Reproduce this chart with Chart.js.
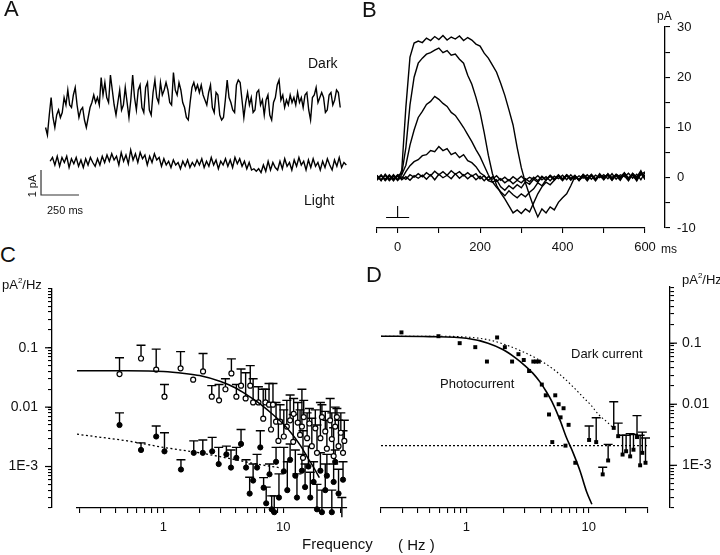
<!DOCTYPE html>
<html><head><meta charset="utf-8">
<script src="https://cdn.jsdelivr.net/npm/chart.js@4.4.1/dist/chart.umd.min.js"></script>
<style>
html,body{margin:0;padding:0;background:#fff;}
#wrap{position:relative;width:720px;height:555px;overflow:hidden;font-family:'Liberation Sans',Arial,Helvetica,sans-serif;color:#111;}
canvas{position:absolute;}
.t{position:absolute;line-height:1;white-space:nowrap;transform:translateY(-50%);}
.L{position:absolute;font-size:22px;line-height:normal;color:#111;}
</style></head><body>
<div id="wrap">
<canvas id="cA" width="360" height="230" style="left:0;top:0"></canvas>
<canvas id="cB" width="360" height="270" style="left:360px;top:0"></canvas>
<canvas id="cC" width="360" height="285" style="left:0;top:270px"></canvas>
<canvas id="cD" width="360" height="285" style="left:360px;top:270px"></canvas>
<div class="L" style="left:4px;top:-4px">A</div>
<div class="L" style="left:362px;top:-3px">B</div>
<div class="L" style="left:0px;top:242px">C</div>
<div class="L" style="left:366px;top:262px">D</div>
<div class="t" style="left:308px;top:63px;font-size:14px">Dark</div>
<div class="t" style="left:304px;top:200px;font-size:14px">Light</div>
<div class="t" style="left:47px;top:210px;font-size:11px">250 ms</div>
<div class="t" style="left:32px;top:186px;font-size:11px;transform:translate(-50%,-50%) rotate(-90deg)">1 pA</div>
<div class="t" style="left:657px;top:16px;font-size:12px">pA</div>
<div class="t" style="left:661px;top:249px;font-size:12px">ms</div>
<div class="t" style="left:2px;top:284px;font-size:13px">pA<sup style="font-size:8px">2</sup>/Hz</div>
<div class="t" style="left:682px;top:279px;font-size:13px">pA<sup style="font-size:8px">2</sup>/Hz</div>
<div class="t" style="left:302px;top:543px;font-size:15px">Frequency</div>
<div class="t" style="left:398px;top:544px;font-size:15px">( Hz )</div>
<div class="t" style="left:571px;top:353px;font-size:13px">Dark current</div>
<div class="t" style="left:440px;top:383px;font-size:13px">Photocurrent</div>
</div>
<script>
// ---------------- DATA ----------------
// Panel A: noise traces (pA, plotted level), uniformly sampled
const aDarkStartMs = 0, aDarkDtMs = 12.2;
const aDarkTrace = [
 4.1,3.8,4.6,5.3,4.5,4.1,4.6,4.8,4.5,4.7,
 5.3,5.0,5.6,5.0,4.9,5.4,5.7,5.0,4.5,4.8,
 4.9,4.4,4.1,4.5,4.9,5.1,5.4,5.1,5.3,5.0,
 6.1,5.4,5.9,5.3,5.1,6.2,5.6,5.0,4.6,5.1,
 5.6,4.8,5.0,5.7,5.1,4.5,5.2,6.2,5.3,4.8,
 5.6,5.8,4.9,4.7,5.7,5.9,4.8,4.6,5.5,6.0,
 5.3,5.1,5.9,5.4,5.6,5.9,5.6,5.1,5.0,6.3,
 5.6,5.4,5.9,5.6,5.1,4.9,4.5,4.4,5.1,5.7,
 5.9,5.6,5.8,5.5,5.8,5.4,5.2,5.0,5.5,5.8,
 4.9,4.7,5.5,5.4,4.6,4.4,4.5,5.2,6.0,5.3,
 5.1,4.8,4.7,5.8,6.0,5.9,5.2,4.5,5.1,5.5,
 5.0,5.3,4.7,4.8,5.5,5.6,5.0,5.2,4.6,5.2,
 5.4,4.6,4.4,5.1,5.3,5.8,6.0,5.2,5.4,4.9,
 5.2,5.0,5.4,5.1,5.3,5.0,5.5,5.1,5.3,4.9,
 5.4,5.5,4.8,4.4,5.3,5.4,5.7,5.1,5.3,5.5,
 5.3,4.7,4.8,5.4,5.5,5.0,5.2,5.6,5.5,4.9
];
const aLightStartMs = 30, aLightDtMs = 15.6;
const aLightTrace = [
 2.75,2.9,2.6,2.95,2.55,2.9,2.7,2.95,2.5,2.85,
 2.65,2.9,2.55,2.8,2.5,2.85,2.6,2.9,2.7,2.55,
 2.85,2.6,2.95,2.7,3.0,2.75,3.05,2.8,2.95,2.6,
 3.1,2.75,3.0,2.65,3.2,2.8,3.05,2.7,3.1,2.85,
 3.0,2.6,2.95,2.7,3.05,2.8,2.9,2.55,2.85,2.6,
 2.75,2.5,2.8,2.6,2.7,2.45,2.75,2.55,2.8,2.5,
 2.7,2.55,2.8,2.6,2.85,2.5,2.75,2.55,2.9,2.6,
 2.8,2.45,2.75,2.6,2.85,2.55,2.8,2.5,2.9,2.65,
 2.85,2.55,2.75,2.45,2.7,2.4,2.45,2.35,2.45,2.3,
 2.6,2.35,2.75,2.4,2.7,2.5,2.4,2.75,2.45,2.85,
 2.55,2.7,2.4,2.8,2.55,2.9,2.6,2.75,2.4,2.8,
 2.5,2.85,2.55,2.7,2.4,2.75,2.5,2.85,2.6,2.4,
 2.8,2.55,2.9,2.5,2.7,2.6
];
const aScaleBarMs = [-30, -30, 220];   // 250 ms
const aScaleBarPA = [2.4, 1.4, 1.4];   // 1 pA

// Panel B: light responses (pA), sampled every 10 ms from -50 ms
const bStartMs = -50, bDtMs = 10;
const bTrace1 = [
 0.5,-0.6,0.7,-0.4,0.6,-0.5,1.5,14,24,26.8,27.2,
 26.9,27.8,27.3,28.1,27.5,28.3,27.4,28.0,27.6,28.2,27.3,
 27.9,27.4,26.6,26.2,24.8,23.8,22.4,21.0,18.8,16.4,13.5,
 10.5,6.0,2.0,-1.0,-3.5,-5.8,-7.8,-6.2,-7.0,-5.8,-6.4,
 -4.9,-4.0,-3.2,-1.6,0.2,-0.5,0.4,-0.6,0.5,-0.3,0.6,
 -0.4,0.8,-0.2,0.7,0.1,1.0,-0.3,0.8,-0.2,1.2,0.2
];
const bTrace2 = [
 -0.3,0.6,-0.5,0.4,-0.6,0.5,0.8,6.0,14.5,20.0,22.8,
 23.8,24.6,24.9,25.4,25.8,24.9,25.3,24.4,24.6,23.6,22.8,
 20.4,18.6,16.0,13.0,9.0,4.5,0.8,-1.5,-3.0,-4.2,-5.6,
 -7.0,-6.4,-7.1,-6.2,-6.8,-5.0,-3.2,-1.8,-0.9,-1.4,-0.5,
 0.3,-0.6,0.4,-0.3,0.5,-0.6,0.3,-0.4,0.6,-0.2,0.5,
 0.0,0.7,-0.4,0.6,-0.1,0.8,-0.3,0.9,0.1,1.4,-0.4
];
const bTrace3 = [
 0.4,-0.5,0.6,-0.3,0.5,-0.4,0.6,2.5,6.5,9.5,12.0,
 13.2,14.6,15.2,16.2,15.6,14.8,14.2,13.0,12.4,11.2,10.0,
 8.6,7.2,5.6,4.2,2.4,0.6,-0.8,-1.9,-2.8,-3.6,-2.6,
 -3.4,-4.0,-3.2,-3.8,-2.9,-2.2,-1.0,-1.6,-0.4,0.3,-0.5,
 0.5,-0.4,0.6,-0.2,0.4,-0.5,0.7,-0.1,0.5,-0.4,0.8,
 -0.2,0.5,-0.5,0.6,0.2,0.4,-0.6,0.7,-0.2,0.6,1.2
];
const bTrace4 = [
 -0.5,0.4,-0.3,0.6,-0.4,0.3,-0.2,1.2,2.4,3.2,3.6,
 4.4,4.6,5.4,5.2,6.2,5.4,5.8,4.6,5.0,4.0,4.6,
 3.4,3.0,2.2,1.0,0.4,-0.6,-0.9,-0.4,-1.8,-2.5,-1.6,
 -2.2,-1.4,-2.0,-0.8,-1.3,-0.3,-0.9,0.2,-0.5,0.4,-0.3,
 0.6,-0.2,0.5,-0.5,0.3,-0.3,0.6,0.0,0.4,-0.6,0.5,
 0.2,0.6,-0.3,0.4,-0.5,0.9,0.0,0.6,-0.6,1.0,0.3
];
const bTrace5 = [
 0.2,-0.4,0.5,-0.6,0.3,-0.5,0.2,-0.3,0.6,0.1,0.8,
 0.2,1.0,0.4,1.3,0.6,1.2,0.5,1.4,0.7,1.2,0.4,
 1.0,0.3,0.8,-0.2,0.4,-0.5,0.2,-0.7,-0.2,-1.0,-0.4,
 -1.2,-0.5,-1.0,-0.2,-0.8,0.1,-0.6,0.3,-0.4,0.5,-0.2,
 0.4,-0.4,0.6,-0.1,0.3,-0.5,0.5,-0.2,0.7,-0.3,0.4,
 -0.3,0.6,0.1,0.5,-0.4,0.7,-0.2,0.5,-0.5,0.8,-0.2
];
const bTrace6 = [
 -0.3,0.5,-0.6,0.3,-0.2,0.6,-0.4,0.2,-0.5,0.4,-0.1,
 0.5,-0.3,0.6,-0.4,0.7,0.0,0.5,-0.2,0.8,-0.1,0.6,
 -0.2,0.5,-0.4,0.3,-0.6,0.2,-0.3,0.4,-0.5,0.1,-0.6,
 0.2,-0.4,0.3,-0.5,0.1,-0.3,0.4,-0.4,0.2,-0.6,0.3,
 -0.2,0.5,-0.4,0.6,-0.3,0.4,-0.1,0.6,-0.3,0.5,0.0,
 0.6,-0.2,0.8,-0.3,0.6,0.2,0.9,-0.1,0.7,-0.4,1.1
];
const bStimMs = [-28, 28, 0, 0, 0];
const bStimPA = [-7.9, -7.9, null, -7.9, -5.6];
const bXTicks = [-50, 0, 100, 200, 300, 400, 500, 600];
const bXLabels = {0: '0', 200: '200', 400: '400', 600: '600'};
const bYTicks = [-10, -5, 0, 5, 10, 15, 20, 25, 30];
const bYLabels = {'-10': '-10', 0: '0', 10: '10', 20: '20', 30: '30'};

// Panel C: power spectra (pA^2/Hz)
const cOpenFreq = [0.43,0.65,0.87,1.02,1.39,1.77,2.14,2.53,2.91,3.29,3.69,4.06,4.44,4.85,5.3,5.6,6.2,6.8,7.1,7.6,7.9,8.2,
 8.7,9.1,9.4,10.1,10.7,11.4,12.1,12.2,13.2,13.8,14.3,14.6,14.8,15.8,16.5,17.3,18.5,19.1,20.4,21.0,22.4,23.1,24.6,25.4,26.3,27.1,28.0,28.9,30.2,31.5,32.3];
const cOpenPSD = [0.036,0.066,0.043,0.015,0.045,0.029,0.040,0.015,0.013,0.020,0.037,0.015,0.023,0.014,0.023,0.012,0.012,0.0064,0.012,0.011,0.0042,0.011,
 0.0057,0.0027,0.0057,0.0032,0.0047,0.006,0.0026,0.0077,0.0055,0.0034,0.0047,0.0014,0.0068,0.003,0.0053,0.0022,0.0044,0.0017,0.003,0.0068,0.0039,0.002,0.006,0.0029,0.0015,0.0047,0.0068,0.0022,0.0037,0.0017,0.0027];
const cOpenErrTop = [0.068,0.11,0.095,0.024,0.086,null,0.080,0.023,0.024,0.030,0.065,0.024,0.044,0.038,0.050,0.030,0.022,0.020,0.020,0.025,0.012,0.025,
 0.012,0.006,0.011,0.009,0.013,0.016,0.0075,0.014,0.012,0.009,0.020,0.004,0.013,0.008,0.0095,0.0065,0.009,0.005,0.012,0.011,0.0085,0.006,0.014,0.008,0.0045,0.010,0.0095,0.006,0.008,0.004,0.006];
const cFilledFreq = [0.43,0.65,0.87,1.02,1.40,1.79,2.13,2.55,2.89,3.35,3.66,4.06,4.44,4.89,5.24,5.6,6.04,6.43,6.85,7.2,7.67,8.0,8.4,8.7,9.2,
 10.1,10.8,11.4,12.6,13.0,14.3,15.2,16.2,16.8,17.9,19.1,20.4,21.0,22.4,23.1,25.4,26.3,27.1,28.9,30.8,31.5];
const cFilledPSD = [0.005,0.0019,0.0032,0.0018,0.00089,0.0017,0.0017,0.0018,0.0011,0.0016,0.00096,0.0014,0.0024,0.00096,0.00035,0.00058,0.00096,0.0021,0.00044,0.00024,0.00074,0.00019,0.00017,0.0012,0.0003,
 0.00083,0.0004,0.0013,0.0007,0.0003,0.00085,0.00045,0.001,0.0003,0.00055,0.00019,0.00085,0.00017,0.0004,0.0007,0.00017,0.00055,0.0012,0.00035,0.00014,0.0006];
const cFilledErrTop = [0.008,0.0025,0.0048,0.0037,0.0013,0.0027,0.0028,0.0031,0.0021,0.0022,0.0019,0.0021,0.0042,0.0013,0.00066,0.0011,0.0016,0.0040,0.00065,0.00045,0.0011,0.00032,0.00032,0.0021,0.00075,
 0.0021,0.0012,0.0024,0.0019,0.00075,0.0016,0.0011,0.0022,0.0008,0.0012,0.0005,0.0017,0.0004,0.0011,0.0016,0.0004,0.0011,0.0019,0.0009,0.0003,0.0012];
const cFitSolidFreq = [0.19,0.5,1,1.5,2,3,4,5,6,7,8,10,12,14,16,18,20];
const cFitSolidPSD  = [0.041,0.041,0.040,0.037,0.034,0.027,0.021,0.016,0.0125,0.0098,0.0078,0.0052,0.0034,0.0022,0.0014,0.00095,0.00065];
const cFitDottedFreq = [0.19,0.3,0.5,1,2,4,6,9.5];
const cFitDottedPSD  = [0.0035,0.0031,0.0027,0.0021,0.0017,0.0013,0.0011,0.00095];

// Panel D
const dFreq = [0.294,0.59,0.88,1.18,1.47,1.78,2.06,2.36,2.66,2.94,3.25,3.52,3.70,3.90,4.13,4.45,4.73,5.03,5.32,5.67,5.88,6.22,6.45,6.84,7.76,8.2,
 10.06,11.5,13.0,14.4,16.0,17.4,18.9,20.2,21.8,23.2,24.8,26.3,27.4,29.1];
const dPSD = [0.15,0.13,0.10,0.086,0.050,0.124,0.086,0.050,0.066,0.053,0.035,0.050,0.050,0.050,0.021,0.014,0.0068,0.0024,0.014,0.010,0.0061,0.0086,0.0021,0.0046,0.0011,0.000085,
 0.0026,0.0024,0.00071,0.0012,0.0041,0.003,0.0015,0.0017,0.0014,0.0018,0.0029,0.001,0.0016,0.0011];
const dErrTop = [null,null,null,null,null,null,null,null,null,null,null,null,null,null,null,null,null,null,null,null,null,null,null,null,null,null,
 0.0044,0.006,0.00093,0.0022,0.011,0.0049,0.0031,0.0031,0.0033,0.0032,0.0065,0.0031,0.0035,0.0028];
const dPhotoFitFreq = [0.2,0.5,1,1.5,2,2.5,3,3.5,4,4.5,5,5.8,6.5,7.45,8.5,9.6,10.6];
const dPhotoFitPSD  = [0.13,0.128,0.12,0.1,0.078,0.058,0.043,0.032,0.023,0.016,0.011,0.0056,0.003,0.0016,0.0008,0.00037,0.00023];
const dDarkFitFreq = [0.2,0.5,1,1.5,2,3,4,5,6,7.5,9,10.5,12,14,15.5];
const dDarkFitPSD  = [0.13,0.13,0.126,0.114,0.097,0.07,0.052,0.039,0.029,0.019,0.013,0.0095,0.0068,0.0052,0.0043];
const dFloorFreq = [0.2, 30.5];
const dFloorPSD = [0.0021, 0.0021];

const logXMajor = [1, 10], logXLabels = ['1', '10'];
const logYMajor = [0.001, 0.01, 0.1], logYLabels = ['1E-3', '0.01', '0.1'];

// ---------------- HELPERS ----------------
Chart.defaults.font.family = "'Liberation Sans', Arial, Helvetica, sans-serif";
Chart.defaults.font.size = 13;
Chart.defaults.color = '#111';
const pts = (xs, ys) => xs.map((x, i) => ({x, y: ys[i]}));
const sampled = (t0, dt, ys) => ys.map((y, i) => ({x: t0 + i * dt, y}));
function logTicks(min, max) {
  const out = [];
  for (let e = -5; e <= 2; e++) for (let m = 1; m <= 9; m++) {
    const v = m === 1 ? Math.pow(10, e) : m * Math.pow(10, e);
    if (v >= min * 0.999 && v <= max * 1.001) out.push(v);
  }
  return out;
}
function fixedTicks(list) { return s => { s.ticks = list.map(v => ({value: v})); }; }
function gapScale(position, size) {
  return {type: 'linear', axis: 'y', position, display: true, weight: 0,
    grid: {display: false}, border: {display: false}, ticks: {display: false},
    afterFit(s) { s.width = size; }};
}
const gridStyle = {display: true, drawOnChartArea: false, drawTicks: true, tickLength: 5, color: '#000', lineWidth: 1.1};
const minorGrid = Object.assign({}, gridStyle, {tickLength: 4});
const borderStyle = {display: true, color: '#000', width: 1.3};
const baseOpts = {responsive: false, devicePixelRatio: 1, animation: false,
  plugins: {legend: {display: false}, tooltip: {enabled: false}}};

// error bars (upper only) drawn through the chart's scales
const errorBars = {
  id: 'errorBars',
  beforeDatasetsDraw(chart) {
    const ctx = chart.ctx;
    chart.data.datasets.forEach((ds, i) => {
      if (!ds.errTop) return;
      const meta = chart.getDatasetMeta(i);
      const xs = chart.scales[meta.xAxisID], ys = chart.scales[meta.yAxisID];
      ctx.save();
      ctx.strokeStyle = '#000'; ctx.lineWidth = 1.4;
      ds.data.forEach((p, j) => {
        const top = ds.errTop[j];
        if (top == null) return;
        const x = xs.getPixelForValue(p.x), y0 = ys.getPixelForValue(p.y), y1 = ys.getPixelForValue(top);
        ctx.beginPath();
        ctx.moveTo(x, y0); ctx.lineTo(x, y1);
        ctx.moveTo(x - 4.5, y1); ctx.lineTo(x + 4.5, y1);
        ctx.stroke();
      });
      ctx.restore();
    });
  }
};
// longer tick marks at the labelled decades of a log y axis
const majorTicks = {
  id: 'majorTicks',
  afterDraw(chart) {
    const s = chart.scales.y, ctx = chart.ctx;
    if (s.type !== 'logarithmic') return;
    const left = s.position === 'left';
    const x0 = left ? s.right : s.left;
    ctx.save(); ctx.strokeStyle = '#000'; ctx.lineWidth = 1.2;
    logYMajor.forEach(v => {
      const y = s.getPixelForValue(v);
      ctx.beginPath(); ctx.moveTo(x0, y); ctx.lineTo(left ? x0 - 7 : x0 + 7, y); ctx.stroke();
    });
    ctx.restore();
  }
};
const traceStyle = {showLine: true, pointRadius: 0, borderColor: '#000', borderWidth: 1.4, tension: 0};

// ---------------- PANEL A ----------------
new Chart(document.getElementById('cA'), {
  type: 'scatter',
  data: {datasets: [
    Object.assign({data: sampled(aDarkStartMs, aDarkDtMs, aDarkTrace)}, traceStyle),
    Object.assign({data: sampled(aLightStartMs, aLightDtMs, aLightTrace)}, traceStyle),
    Object.assign({data: pts(aScaleBarMs, aScaleBarPA)}, traceStyle, {borderColor: '#333', borderWidth: 1.2})
  ]},
  options: Object.assign({}, baseOpts, {
    layout: {padding: 0},
    scales: {
      x: {type: 'linear', display: false, min: -300, max: 2070},
      y: {type: 'linear', display: false, min: 0, max: 9.2}
    }
  })
});

// ---------------- PANEL B ----------------
const bTraces = [bTrace1, bTrace2, bTrace3, bTrace4, bTrace5, bTrace6];
new Chart(document.getElementById('cB'), {
  type: 'scatter',
  data: {datasets: bTraces.map(tr => Object.assign({data: sampled(bStartMs, bDtMs, tr)}, traceStyle, {borderWidth: 1.4}))
    .concat([Object.assign({data: pts(bStimMs, bStimPA), spanGaps: false}, traceStyle, {borderWidth: 1.1})])},
  options: Object.assign({}, baseOpts, {
    layout: {padding: {left: 17, top: 27, right: 0, bottom: 0}},
    scales: {
      x: {type: 'linear', position: 'bottom', min: -50, max: 600, bounds: 'data',
        grid: gridStyle, border: borderStyle, afterBuildTicks: fixedTicks(bXTicks),
        afterFit(s) { s.height = 42; },
        ticks: {autoSkip: false, maxRotation: 0, padding: 7, font: {size: 13},
          callback: v => bXLabels[v] !== undefined ? bXLabels[v] : ''}},
      y: {type: 'linear', position: 'right', weight: 1, min: -10, max: 30, bounds: 'data',
        grid: gridStyle, border: borderStyle, afterBuildTicks: fixedTicks(bYTicks),
        afterFit(s) { s.width = 55; },
        ticks: {autoSkip: false, padding: 7, font: {size: 13},
          callback: v => bYLabels[v] !== undefined ? bYLabels[v] : ''}},
      gap: gapScale('right', 20)
    }
  })
});

// ---------------- PANEL C ----------------
const xLogLabel = v => { const k = logXMajor.indexOf(v); return k >= 0 ? logXLabels[k] : ''; };
const yLogLabel = v => { const k = logYMajor.indexOf(v); return k >= 0 ? logYLabels[k] : ''; };
new Chart(document.getElementById('cC'), {
  type: 'scatter',
  data: {datasets: [
    {data: pts(cFitSolidFreq, cFitSolidPSD), showLine: true, pointRadius: 0, borderColor: '#000', borderWidth: 1.5, cubicInterpolationMode: 'monotone'},
    {data: pts(cFitDottedFreq, cFitDottedPSD), showLine: true, pointRadius: 0, borderColor: '#000', borderWidth: 1.3, borderDash: [2, 2.5], cubicInterpolationMode: 'monotone'},
    {data: pts(cFilledFreq, cFilledPSD), errTop: cFilledErrTop, pointRadius: 2.6, pointStyle: 'circle', backgroundColor: '#000', borderColor: '#000', borderWidth: 1, clip: false},
    {data: pts(cOpenFreq, cOpenPSD), errTop: cOpenErrTop, pointRadius: 2.5, pointStyle: 'circle', backgroundColor: '#fff', borderColor: '#000', borderWidth: 1.2, clip: false}
  ]},
  options: Object.assign({}, baseOpts, {
    layout: {padding: {left: 0, top: 10, right: 13, bottom: 0}},
    scales: {
      x: {type: 'logarithmic', position: 'bottom', min: 0.19, max: 34, bounds: 'data',
        grid: gridStyle, border: borderStyle, afterBuildTicks: fixedTicks(logTicks(0.19, 34)),
        afterFit(s) { s.height = 47; },
        ticks: {autoSkip: false, maxRotation: 0, padding: 7, font: {size: 13}, callback: xLogLabel}},
      y: {type: 'logarithmic', position: 'left', weight: 1, min: 2e-4, max: 1, bounds: 'data',
        grid: minorGrid, border: borderStyle, afterBuildTicks: fixedTicks(logTicks(2e-4, 1)),
        afterFit(s) { s.width = 52; },
        ticks: {autoSkip: false, padding: 10, font: {size: 14}, callback: yLogLabel}},
      gap: gapScale('left', 25)
    }
  }),
  plugins: [errorBars, majorTicks]
});

// ---------------- PANEL D ----------------
new Chart(document.getElementById('cD'), {
  type: 'scatter',
  data: {datasets: [
    {data: pts(dPhotoFitFreq, dPhotoFitPSD), showLine: true, pointRadius: 0, borderColor: '#000', borderWidth: 1.6, cubicInterpolationMode: 'monotone'},
    {data: pts(dDarkFitFreq, dDarkFitPSD), showLine: true, pointRadius: 0, borderColor: '#000', borderWidth: 1.1, borderDash: [1.5, 2.5], cubicInterpolationMode: 'monotone'},
    {data: pts(dFloorFreq, dFloorPSD), showLine: true, pointRadius: 0, borderColor: '#000', borderWidth: 1.3, borderDash: [2, 2]},
    {data: pts(dFreq, dPSD), errTop: dErrTop, pointRadius: 2.8, pointStyle: 'rect', backgroundColor: '#000', borderColor: '#000', borderWidth: 0, clip: false}
  ]},
  options: Object.assign({}, baseOpts, {
    layout: {padding: {left: 21, top: 7, right: 0, bottom: 0}},
    scales: {
      x: {type: 'logarithmic', position: 'bottom', min: 0.2, max: 30.5, bounds: 'data',
        grid: gridStyle, border: borderStyle, afterBuildTicks: fixedTicks(logTicks(0.2, 30.5)),
        afterFit(s) { s.height = 47; },
        ticks: {autoSkip: false, maxRotation: 0, padding: 7, font: {size: 13}, callback: xLogLabel}},
      y: {type: 'logarithmic', position: 'right', weight: 1, min: 2e-4, max: 0.85, bounds: 'data',
        grid: minorGrid, border: borderStyle, afterBuildTicks: fixedTicks(logTicks(2e-4, 0.85)),
        afterFit(s) { s.width = 50; },
        ticks: {autoSkip: false, padding: 8, font: {size: 14}, callback: yLogLabel}},
      gap: gapScale('right', 22)
    }
  }),
  plugins: [errorBars, majorTicks]
});
</script>
</body></html>
